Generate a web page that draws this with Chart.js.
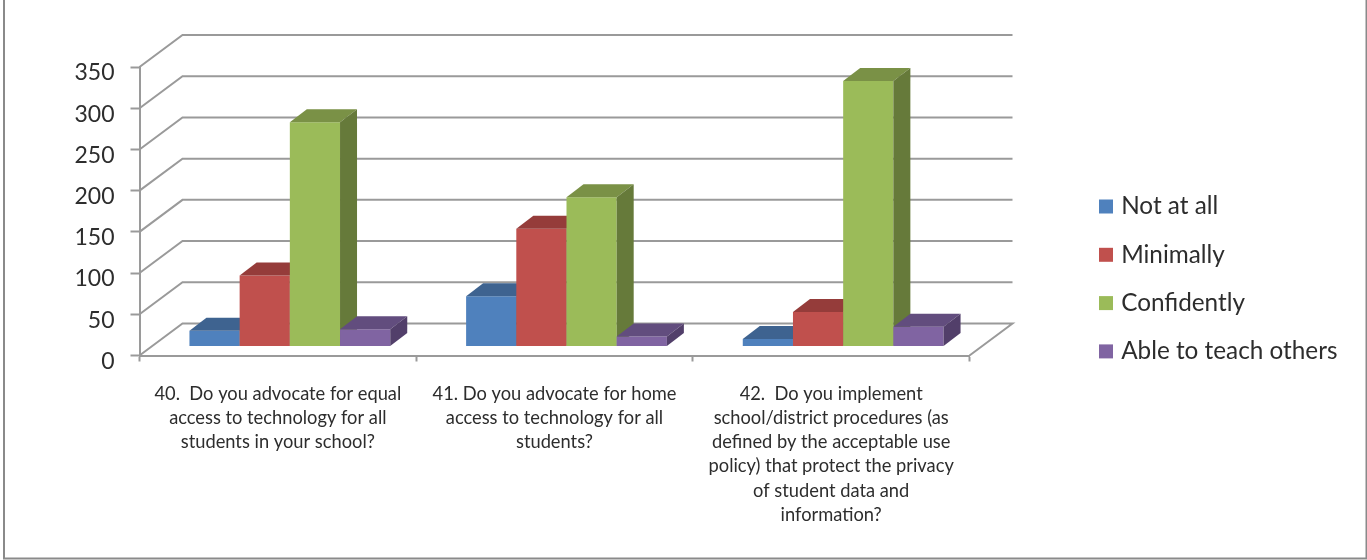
<!DOCTYPE html>
<html>
<head>
<meta charset="utf-8">
<style>html,body{margin:0;padding:0;background:#fff}#w{width:1367px;height:560px}canvas{display:block}</style>
<script src="https://cdn.jsdelivr.net/npm/chart.js@4"></script>
</head>
<body>
<div id="w"><canvas id="c" width="1367" height="560"></canvas></div>
<script>
const categories = [
  ["40.  Do you advocate for equal", "access to technology for all", "students in your school?"],
  ["41. Do you advocate for home", "access to technology for all", "students?"],
  ["42.  Do you implement", "school/district procedures (as", "defined by the acceptable use", "policy) that protect the privacy", "of student data and", "information?"]
];
const notAtAll = [19, 61, 9];
const minimally = [86, 143, 42];
const confidently = [272, 181, 322];
const ableToTeach = [21, 12, 24];
const seriesNames = ["Not at all", "Minimally", "Confidently", "Able to teach others"];
const yMax = 350, yStep = 50;

const FRONT = ["#4F81BD", "#C0504D", "#9BBB59", "#8064A2"];
const TOP = ["#3E6390", "#953C3A", "#7A9146", "#624D7E"];
const SIDE = ["#33527A", "#7E3230", "#667A3A", "#523F6A"];
const GRID = "#9a9a9a";
const TEXT = "#2d2d2d";
const WALL = {dx: 43, dy: 32};
const BAR_SHIFT = {dx: 12, dy: 9};
const BAR_DEPTH = {dx: 17, dy: 13};

function poly(ctx, pts, fill) {
  ctx.beginPath();
  pts.forEach((p, i) => i ? ctx.lineTo(p[0], p[1]) : ctx.moveTo(p[0], p[1]));
  ctx.closePath();
  ctx.fillStyle = fill;
  ctx.fill();
}

const scene3d = {
  id: "scene3d",
  beforeLayout(chart) {
    const lg = chart.legend;
    if (lg && !lg._wrapped) {
      const fit = lg.fit;
      lg.fit = function () { fit.call(this); this.width = 397.5; };
      lg._wrapped = true;
    }
  },
  afterLayout(chart) {
    const lg = chart.legend;
    lg.left = 1079; lg.right = 1345;
    lg.top = 100; lg.bottom = 457.9;
    lg.adjustHitBoxes();
  },
  beforeDraw(chart) {
    const c = chart.ctx;
    c.save();
    c.fillStyle = "#fff";
    c.fillRect(0, 0, chart.width, chart.height);
    c.strokeStyle = "#8a8a8a";
    c.lineWidth = 2;
    c.beginPath();
    c.moveTo(4, 0); c.lineTo(4, 558.5); c.lineTo(1366.5, 558.5); c.lineTo(1366.5, 0);
    c.stroke();
    c.restore();
  },
  beforeDatasetsDraw(chart) {
    const c = chart.ctx, y = chart.scales.y, a = chart.chartArea;
    c.save();
    c.strokeStyle = GRID;
    c.lineWidth = 2;
    y.ticks.forEach(t => {
      const py = y.getPixelForValue(t.value);
      c.beginPath();
      c.moveTo(a.left, py);
      c.lineTo(a.left + WALL.dx, py - WALL.dy);
      c.lineTo(a.right + WALL.dx, py - WALL.dy);
      if (t.value === 0) c.lineTo(a.right, py);
      c.stroke();
    });
    c.restore();
  },
  // The library paints datasets last-to-first; this 3D look needs left-to-right.
  beforeDatasetDraw() { return false; },
  afterDatasetsDraw(chart) {
    const c = chart.ctx, d = BAR_DEPTH;
    c.save();
    c.translate(BAR_SHIFT.dx, -BAR_SHIFT.dy);
    chart.data.datasets.forEach((_, i) => {
      const meta = chart.getDatasetMeta(i);
      meta.controller.draw();
      meta.data.forEach(bar => {
        const l = bar.x - bar.width / 2, r = bar.x + bar.width / 2;
        poly(c, [[l, bar.y], [r, bar.y], [r + d.dx, bar.y - d.dy], [l + d.dx, bar.y - d.dy]], TOP[i]);
        poly(c, [[r, bar.y], [r + d.dx, bar.y - d.dy], [r + d.dx, bar.base - d.dy], [r, bar.base]], SIDE[i]);
      });
    });
    c.restore();
  }
};

new Chart(document.getElementById("c"), {
  type: "bar",
  plugins: [scene3d],
  data: {
    labels: categories,
    datasets: [notAtAll, minimally, confidently, ableToTeach].map((d, i) => ({
      label: seriesNames[i],
      data: d,
      backgroundColor: FRONT[i],
      borderWidth: 0,
      categoryPercentage: 0.7257,
      barPercentage: 1
    }))
  },
  options: {
    responsive: false,
    animation: false,
    layout: {padding: {left: 0, top: 67, right: 0, bottom: 0}},
    plugins: {
      tooltip: {enabled: false},
      title: {display: false},
      legend: {
        position: "right",
        align: "center",
        labels: {
          usePointStyle: true,
          pointStyle: "rect",
          boxWidth: 6,
          boxHeight: 14,
          padding: 24,
          color: TEXT,
          font: {family: "Lato", size: 24.3}
        }
      }
    },
    scales: {
      x: {
        afterFit(s) { s.height = 204.5; },
        grid: {drawOnChartArea: false, drawTicks: true, tickLength: 6, tickColor: GRID, tickWidth: 2},
        border: {color: GRID, width: 2},
        ticks: {
          autoSkip: false, maxRotation: 0, minRotation: 0,
          padding: 20, color: TEXT,
          font: {family: "Lato", size: 18.3, lineHeight: 1.328}
        }
      },
      y: {
        min: 0, max: yMax,
        afterFit(s) { s.width = 139.5; },
        grid: {drawOnChartArea: false, drawTicks: true, tickLength: 9, tickColor: GRID, tickWidth: 2},
        border: {color: GRID, width: 2},
        ticks: {
          stepSize: yStep, padding: 16, color: TEXT,
          font: {family: "Lato", size: 23, lineHeight: 12 / 23},
          callback: v => ["", String(v)]
        }
      }
    }
  }
});
</script>
</body>
</html>
